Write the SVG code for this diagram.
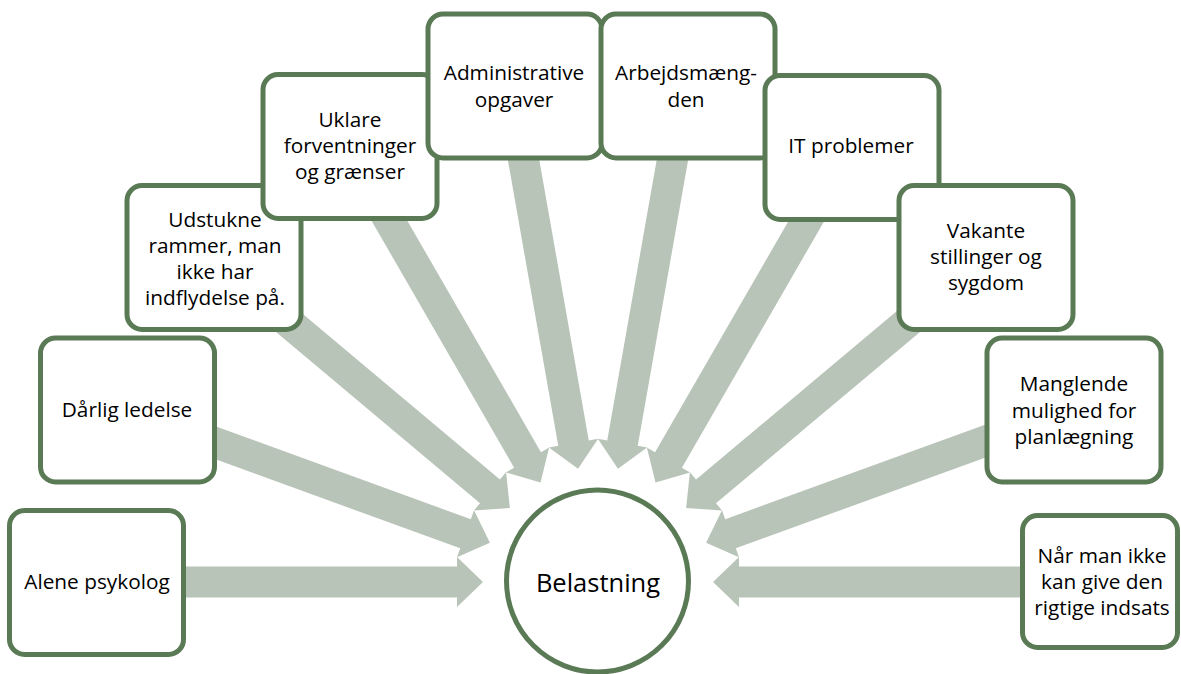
<svg xmlns="http://www.w3.org/2000/svg" xmlns:xlink="http://www.w3.org/1999/xlink" width="1181" height="674" viewBox="0 0 1181 674">
<style>
.box{fill:#ffffff;stroke:#5a7a55;stroke-width:5}
.t{font-family:"Open Sans","Noto Sans","Liberation Sans",sans-serif;font-size:20.8px;fill:#000;text-anchor:middle}
.big{font-size:25.5px}
.arr{fill:#b9c4b9}
</style>
<defs>
<path id="arrow" d="M 500 -15.5 L 141 -15.5 L 141 -25 L 115 0 L 141 25 L 141 15.5 L 500 15.5 Z"/>
</defs>
<rect width="1181" height="674" fill="#ffffff"/>
<g id="connectors" class="arr">
<use xlink:href="#arrow" href="#arrow" transform="translate(598 582) rotate(180)"/>
<use xlink:href="#arrow" href="#arrow" transform="translate(598 582) rotate(200)"/>
<use xlink:href="#arrow" href="#arrow" transform="translate(598 582) rotate(220)"/>
<use xlink:href="#arrow" href="#arrow" transform="translate(598 582) rotate(240)"/>
<use xlink:href="#arrow" href="#arrow" transform="translate(598 582) rotate(260)"/>
<use xlink:href="#arrow" href="#arrow" transform="translate(598 582) rotate(280)"/>
<use xlink:href="#arrow" href="#arrow" transform="translate(598 582) rotate(300)"/>
<use xlink:href="#arrow" href="#arrow" transform="translate(598 582) rotate(320)"/>
<use xlink:href="#arrow" href="#arrow" transform="translate(598 582) rotate(340)"/>
<use xlink:href="#arrow" href="#arrow" transform="translate(598 582) rotate(360)"/>
</g>
<g id="center">
<circle cx="597.5" cy="581" r="91" class="box"/>
<text class="t big" x="598" y="592">Belastning</text>
</g>
<g id="n1">
<rect class="box" x="9.5" y="510.5" width="174" height="144" rx="15"/>
<text class="t" x="97" y="589">Alene psykolog</text>
</g>
<g id="n2">
<rect class="box" x="40.5" y="338" width="174" height="144" rx="15"/>
<text class="t" x="127" y="417">Dårlig ledelse</text>
</g>
<g id="n3">
<rect class="box" x="127" y="185.5" width="174" height="144" rx="15"/>
<text class="t" x="215" y="227">Udstukne</text>
<text class="t" x="215" y="253">rammer, man</text>
<text class="t" x="215" y="279">ikke har</text>
<text class="t" x="215" y="305">indflydelse på.</text>
</g>
<g id="n4">
<rect class="box" x="263" y="74.5" width="174" height="144" rx="15"/>
<text class="t" x="350" y="127">Uklare</text>
<text class="t" x="350" y="153">forventninger</text>
<text class="t" x="350" y="179">og grænser</text>
</g>
<g id="n5">
<rect class="box" x="428" y="14" width="174" height="144" rx="15"/>
<text class="t" x="514" y="80">Administrative</text>
<text class="t" x="514" y="107">opgaver</text>
</g>
<g id="n6">
<rect class="box" x="601" y="14" width="174" height="144" rx="15"/>
<text class="t" x="686" y="80">Arbejdsmæng-</text>
<text class="t" x="686" y="107">den</text>
</g>
<g id="n7">
<rect class="box" x="765" y="75.5" width="174" height="144" rx="15"/>
<text class="t" x="851" y="153">IT problemer</text>
</g>
<g id="n8">
<rect class="box" x="899" y="185.5" width="174" height="144" rx="15"/>
<text class="t" x="986" y="238">Vakante</text>
<text class="t" x="986" y="264">stillinger og</text>
<text class="t" x="986" y="290">sygdom</text>
</g>
<g id="n9">
<rect class="box" x="987" y="338" width="174" height="144" rx="15"/>
<text class="t" x="1074" y="391">Manglende</text>
<text class="t" x="1074" y="417.5">mulighed for</text>
<text class="t" x="1074" y="444">planlægning</text>
</g>
<g id="n10">
<rect class="box" x="1022.5" y="515.5" width="155" height="132" rx="15"/>
<text class="t" x="1102" y="563">Når man ikke</text>
<text class="t" x="1102" y="589">kan give den</text>
<text class="t" x="1102" y="615">rigtige indsats</text>
</g>
</svg>
